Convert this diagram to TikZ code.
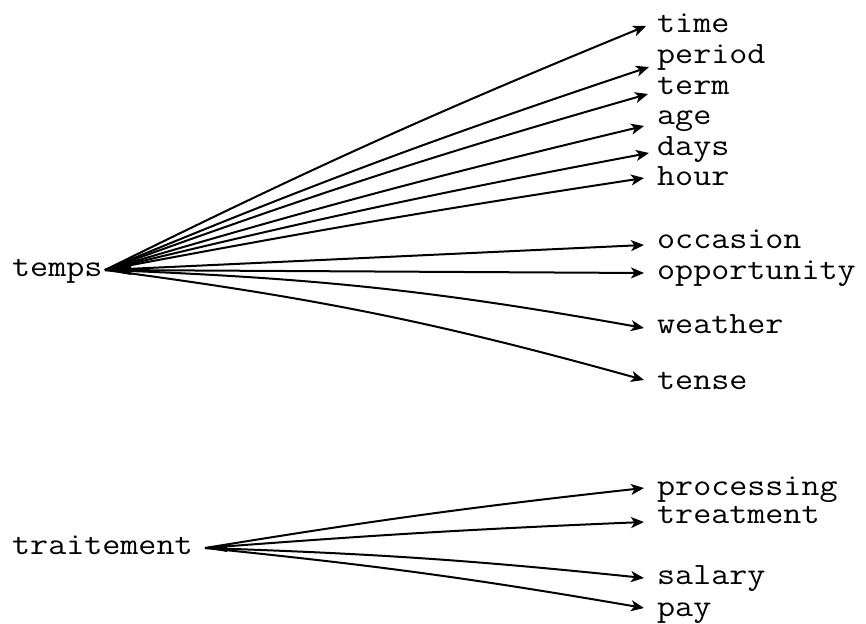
\documentclass[tikz,border=0pt]{standalone}
\usepackage{fontspec}
\usepackage{graphicx}
\usetikzlibrary{arrows.meta}
\newcommand\labfnt{\ttfamily\addfontfeatures{FakeBold=1.2}\fontsize{31bp}{36bp}\selectfont}
\newcommand\wtxt[1]{\scalebox{1.13}[1]{#1}}
\tikzset{
  lab/.style={font=\labfnt, inner sep=0pt, anchor=west, text height=13bp, text depth=0pt},
  src/.style={font=\labfnt, inner sep=0pt, anchor=west, text height=13bp, text depth=0pt},
  arr/.style={line width=2bp, -{Stealth[length=13bp,width=11bp,inset=3.5bp]}},
  blob/.style={fill=black}
}
\begin{document}
\begin{tikzpicture}[x=1bp,y=-1bp]
\useasboundingbox (0,0) rectangle (866,624);
% sources
\node[src] (temps) at (12,270) {\wtxt{temps}};
\node[src] (trait) at (12,548) {\wtxt{traitement}};
\coordinate (ts) at (105,270);
\coordinate (tr) at (205,548);
% targets
\node[lab] (time) at (657,26) {\wtxt{time}};
\node[lab] (period) at (657,57) {\wtxt{period}};
\node[lab] (term) at (657,88) {\wtxt{term}};
\node[lab] (age) at (657,118) {\wtxt{age}};
\node[lab] (days) at (657,149) {\wtxt{days}};
\node[lab] (hour) at (657,179) {\wtxt{hour}};
\node[lab] (occasion) at (657,242) {\wtxt{occasion}};
\node[lab] (opportunity) at (657,273) {\wtxt{opportunity}};
\node[lab] (weather) at (657,327) {\wtxt{weather}};
\node[lab] (tense) at (657,383) {\wtxt{tense}};
\node[lab] (processing) at (657,489) {\wtxt{processing}};
\node[lab] (treatment) at (657,517) {\wtxt{treatment}};
\node[lab] (salary) at (657,578) {\wtxt{salary}};
\node[lab] (pay) at (657,610) {\wtxt{pay}};
% blobs at the sources
\fill[blob] (ts) -- ++(26,-5) -- ++(0,10) -- cycle;
\fill[blob] (tr) -- ++(22,-4) -- ++(0,8) -- cycle;
% temps fan
\draw[arr] (ts) to[bend left=2] ([xshift=-11bp]time.west);
\draw[arr] (ts) to[bend left=2] ([xshift=-8bp,yshift=-10bp]period.west);
\draw[arr] (ts) to[bend left=2] ([xshift=-9bp,yshift=-6bp]term.west);
\draw[arr] (ts) to[bend left=1.5] ([xshift=-13bp,yshift=-8bp]age.west);
\draw[arr] (ts) to[bend left=1.5] ([xshift=-8bp,yshift=-4bp]days.west);
\draw[arr] (ts) to[bend left=1] ([xshift=-13bp,yshift=1bp]hour.west);
\draw[arr] (ts) to ([xshift=-13bp,yshift=-3bp]occasion.west);
\draw[arr] (ts) to ([xshift=-13bp]opportunity.west);
\draw[arr] (ts) to[bend left=4] ([xshift=-13bp,yshift=-1bp]weather.west);
\draw[arr] (ts) to[bend left=4] ([xshift=-13bp,yshift=3bp]tense.west);
% traitement fan
\draw[arr] (tr) to[bend left=1.5] ([xshift=-13bp,yshift=1bp]processing.west);
\draw[arr] (tr) to[bend left=1] ([xshift=-13bp,yshift=-5bp]treatment.west);
\draw[arr] (tr) to[bend left=2] ([xshift=-13bp]salary.west);
\draw[arr] (tr) to[bend left=2] ([xshift=-13bp,yshift=2bp]pay.west);
\end{tikzpicture}
\end{document}
